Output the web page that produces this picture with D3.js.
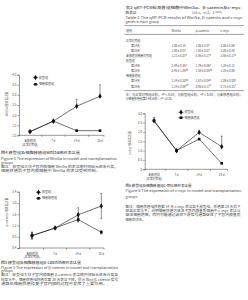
<!DOCTYPE html>
<html lang="zh">
<head>
<meta charset="UTF-8">
<title>Wnt5a / β-catenin / c-myc</title>
<style>
  body { margin: 0; background: #fff; }
  svg { display: block; }
  text { font-family: "Noto Sans CJK SC", "Liberation Sans", sans-serif; fill: #4a4a4a; }
</style>
</head>
<body>
<script src="https://cdn.jsdelivr.net/npm/d3@7"></script>
<script>
// categories & series
var categories = ["未移植前|(正常对照组)", "7 d", "14 d", "28 d"];
var seriesNames = ["模型组", "细胞移植组"];

var wnt5aTicks = [1.0, 1.5, 2.0, 2.5, 3.0, 3.5, 4.0];
var wnt5aModel = [1.18, 1.70, 2.44, 2.93];
var wnt5aModelErr = [0, 0, 0.34, 0.57];
var wnt5aTrans = [1.18, 1.70, 1.23, 1.23];
var wnt5aTransErr = [0, 0, 0, 0];

var cateninTicks = [0.4, 0.8, 1.2, 1.6, 2.0, 2.4];
var cateninModel = [0.84, 1.11, 1.58, 1.89];
var cateninModelErr = [0.12, 0, 0.25, 0.45];
var cateninTrans = [0.84, 1.11, 1.41, 0.96];
var cateninTransErr = [0.12, 0, 0.08, 0.06];

var mycTicks = [0, 0.5, 1.0, 1.5, 2.0, 2.5, 3.0];
var mycModel = [2.60, 1.00, 1.98, 1.21];
var mycModelErr = [0.18, 0, 0, 0.57];
var mycTrans = [2.60, 1.00, 1.62, 0.32];
var mycTransErr = [0, 0, 0, 0];

// table 2
var tableColumns = ["组别", "Wnt5a", "β-catenin", "c-myc"];
var rowLabels = ["正常对照组", "第14天", "第28天", "未移植前细胞对照组", "模型组", "第14天", "第28天", "细胞移植组", "第14天", "第28天"];
var wnt5aCells = ["", "1.00±0.15", "1.00±0.07", "2.21±0.37", "", "2.44±0.35", "3.45±1.08", "", "2.14±0.33", "2.14±0.09"];
var wnt5aMarks = ["", "", "", "a", "", "a", "ab", "", "ab", "ab"];
var cateninCells = ["", "1.00±0.07", "1.00±0.07", "0.86±0.17", "", "1.79±0.06", "1.59±0.08", "", "1.57±0.04", "0.93±0.17"];
var cateninMarks = ["", "", "", "a", "", "a", "ab", "", "a", "a"];
var mycCells = ["", "1.00±0.06", "1.00±0.08", "2.66±0.17", "", "1.24±0.12", "1.20±0.06", "", "2.09±0.08", "0.71±0.15"];
var mycMarks = ["", "", "", "a", "", "", "", "", "a", "a"];

var svg = d3.select("body").append("svg")
  .attr("width", 248)
  .attr("height", 300);

svg.append("rect").attr("width", 248).attr("height", 300).attr("fill", "#fff");

// one line of text, stretched to the width seen in the picture
function txt(x, y, str, size, len, weight) {
  var t = svg.append("text")
    .attr("x", x).attr("y", y)
    .attr("font-size", size)
    .text(str);
  if (len) t.attr("textLength", len).attr("lengthAdjust", "spacingAndGlyphs");
  if (weight) t.attr("font-weight", weight);
  return t;
}

function drawChart(c) {
  var g = svg.append("g");
  var x = d3.scalePoint().domain(categories).range(c.xRange);
  var y = d3.scaleLinear()
    .domain([c.ticks[0], c.ticks[c.ticks.length - 1]])
    .range([c.yBottom, c.yTop]);

  var yAxis = d3.axisLeft(y)
    .tickValues(c.ticks)
    .tickSize(1.5)
    .tickPadding(1)
    .tickFormat(function(d) { return d === 0 ? "0" : d.toFixed(1); });

  var ya = g.append("g")
    .attr("transform", "translate(" + c.axisX + ",0)")
    .call(yAxis);
  ya.selectAll("path, line").attr("stroke", "#333").attr("stroke-width", 0.5);
  ya.selectAll("text").attr("font-size", 3).attr("fill", "#555")
    .attr("font-family", "Liberation Sans, sans-serif");

  // x axis
  g.append("line")
    .attr("x1", c.axisX).attr("x2", c.axisRight)
    .attr("y1", c.yBottom).attr("y2", c.yBottom)
    .attr("stroke", "#333").attr("stroke-width", 0.5);
  var tickXs = [];
  for (var i = 0; i < categories.length - 1; i++) {
    tickXs.push((x(categories[i]) + x(categories[i + 1])) / 2);
  }
  tickXs.push(c.axisRight);
  g.selectAll(".xt").data(tickXs).enter().append("line")
    .attr("x1", function(d) { return d; }).attr("x2", function(d) { return d; })
    .attr("y1", c.yBottom).attr("y2", c.yBottom + 1.5)
    .attr("stroke", "#333").attr("stroke-width", 0.5);

  categories.forEach(function(cat) {
    cat.split("|").forEach(function(part, k) {
      g.append("text")
        .attr("x", x(cat)).attr("y", c.yBottom + 7 + k * 3.3)
        .attr("text-anchor", "middle")
        .attr("font-size", 2.9)
        .attr("fill", "#555")
        .text(part);
    });
  });

  // y title
  g.append("text")
    .attr("transform", "translate(" + c.titleX + "," + c.titleY + ") rotate(-90)")
    .attr("text-anchor", "middle")
    .attr("font-size", 3)
    .attr("fill", "#555")
    .text(c.yTitle);

  var line = d3.line()
    .x(function(d, i) { return x(categories[i]); })
    .y(function(d) { return y(d); });

  c.series.forEach(function(s, si) {
    var sym = d3.symbol().type(si === 0 ? d3.symbolDiamond : d3.symbolSquare).size(si === 0 ? 9 : 7);

    g.append("path")
      .attr("d", line(s.values))
      .attr("fill", "none")
      .attr("stroke", "#111")
      .attr("stroke-width", 0.6);

    s.values.forEach(function(v, i) {
      var e = s.err[i];
      if (!e) return;
      var cx = x(categories[i]);
      var lo = c.errBoth ? v - e : v;
      g.append("line")
        .attr("x1", cx).attr("x2", cx)
        .attr("y1", y(lo)).attr("y2", y(v + e))
        .attr("stroke", "#222").attr("stroke-width", 0.5);
      g.append("line")
        .attr("x1", cx - 0.9).attr("x2", cx + 0.9)
        .attr("y1", y(v + e)).attr("y2", y(v + e))
        .attr("stroke", "#222").attr("stroke-width", 0.5);
      if (c.errBoth) {
        g.append("line")
          .attr("x1", cx - 0.9).attr("x2", cx + 0.9)
          .attr("y1", y(lo)).attr("y2", y(lo))
          .attr("stroke", "#222").attr("stroke-width", 0.5);
      }
    });

    g.selectAll(".m" + si).data(s.values).enter().append("path")
      .attr("d", sym)
      .attr("transform", function(d, i) { return "translate(" + x(categories[i]) + "," + y(d) + ")"; })
      .attr("fill", "#111");

    // legend
    var ly = c.legendY[si];
    g.append("line")
      .attr("x1", c.legendX).attr("x2", c.legendX + 5)
      .attr("y1", ly).attr("y2", ly)
      .attr("stroke", "#111").attr("stroke-width", 0.6);
    g.append("path")
      .attr("d", sym)
      .attr("transform", "translate(" + (c.legendX + 2.5) + "," + ly + ")")
      .attr("fill", "#111");
    g.append("text")
      .attr("x", c.legendX + 6).attr("y", ly + 1.1)
      .attr("font-size", 3)
      .attr("fill", "#555")
      .text(seriesNames[si]);
  });
}

// Figure 4 - Wnt5a
drawChart({
  xRange: [30, 100], axisX: 19, axisRight: 104,
  yTop: 74.7, yBottom: 135.3, ticks: wnt5aTicks,
  yTitle: "Wnt5a 相对表达量", titleX: 7.5, titleY: 104,
  legendX: 33, legendY: [77.5, 84.3],
  errBoth: false,
  series: [
    { values: wnt5aModel, err: wnt5aModelErr },
    { values: wnt5aTrans, err: wnt5aTransErr }
  ]
});

// Figure 5 - β-catenin
drawChart({
  xRange: [32, 101.3], axisX: 19, axisRight: 104,
  yTop: 191.7, yBottom: 248, ticks: cateninTicks,
  yTitle: "β-catenin 相对表达量", titleX: 7.5, titleY: 212,
  legendX: 36, legendY: [192.3, 198.3],
  errBoth: true,
  series: [
    { values: cateninModel, err: cateninModelErr },
    { values: cateninTrans, err: cateninTransErr }
  ]
});

// Figure 6 - c-myc
drawChart({
  xRange: [154, 221.7], axisX: 144.7, axisRight: 227.5,
  yTop: 113.3, yBottom: 169.3, ticks: mycTicks,
  yTitle: "c-myc 相对表达量", titleX: 131, titleY: 143,
  legendX: 178.5, legendY: [112.3, 117.7],
  errBoth: false,
  series: [
    { values: mycModel, err: mycModelErr },
    { values: mycTrans, err: mycTransErr }
  ]
});

// captions, left column
txt(1, 154.2, "图4  模型组及细胞移植组Wnt5a相对表达量", 3.7, 79, 500);
txt(1, 159.5, "Figure 4  The expression of Wnt5a in model and transplantation", 3.6, 116);
txt(1, 163.8, "groups", 3.6);
txt(1, 168, "图注：模型组大鼠子宫内膜细胞 Wnt5a 的表达随时间延长逐渐升高，", 3.4, 117);
txt(1, 172.3, "细胞移植后子宫内膜细胞中 Wnt5a 的表达受到抑制。", 3.4, 99);

txt(1, 264.2, "图5  模型组及细胞移植组β-catenin相对表达量", 3.7, 80, 500);
txt(1, 268.5, "Figure 5  The expression of β-catenin in model and transplantation", 3.6, 117);
txt(1, 272, "groups", 3.6);
txt(1, 276.3, "图注：模型组大鼠子宫内膜细胞 β-catenin 表达随时间延长逐渐升高至", 3.4, 117);
txt(1, 280.6, "较高水平，细胞移植组移植后第 28 天表达下降，提示 Wnt/β-catenin 信号", 3.4, 117);
txt(1, 284.9, "通路在细胞移植修复子宫内膜的过程中发挥了重要作用。", 3.4, 106);

// table 2, right column
txt(125.5, 8.8, "表2  qRT-PCR检测各组细胞中Wnt5a、β-catenin及c-myc", 3.6, 115, 500);
txt(125.5, 13.8, "的表达", 3.6, 11, 500);
var unit = txt(192, 13.8, "(x̄±s，n=3，2", 3.4, null);
unit.append("tspan").attr("dy", -1.2).attr("font-size", 2.3).text("−ΔΔCt");
unit.append("tspan").attr("dy", 1.2).text(")");
txt(125.5, 18.7, "Table 2  The qRT-PCR results of Wnt5a, β-catenin and c-myc", 3.6, 117);
txt(125.5, 23.1, "genes in each group", 3.6);

var rule = function(y) {
  svg.append("line").attr("x1", 124.5).attr("x2", 244)
    .attr("y1", y).attr("y2", y)
    .attr("stroke", "#444").attr("stroke-width", 0.5);
};
rule(25.6);
rule(34.4);

var colX = [126, 171.5, 195.5, 220.5];
tableColumns.forEach(function(col, i) {
  txt(colX[i], 31.5, col, 3.1);
});

var rowY = d3.scaleLinear().domain([0, rowLabels.length - 1]).range([41.6, 87.5]);
var cellCols = [[wnt5aCells, wnt5aMarks], [cateninCells, cateninMarks], [mycCells, mycMarks]];
rowLabels.forEach(function(lab, r) {
  var yy = rowY(r);
  txt(lab.indexOf("第") === 0 ? 131 : 126, yy, lab, 2.9);
  cellCols.forEach(function(cc, ci) {
    if (!cc[0][r]) return;
    var t = txt(colX[ci + 1], yy, cc[0][r], 2.9);
    if (cc[1][r]) t.append("tspan").attr("dy", -1.1).attr("font-size", 2.1).text(cc[1][r]);
  });
});
rule(90.6);

txt(125.5, 95.8, "注：与正常对照组比较，ᵃP＜0.05；与模型组比较，ᵇP＜0.05；与未移植组比较，", 3.2, 117);
txt(125.5, 100.2, "与细胞移植组第14天比较，ᶜP＜0.05。", 3.2, 49);

// caption, right column
txt(125.5, 187, "图6  模型组及细胞移植组c-myc相对表达量", 3.7, 66, 500);
txt(125.5, 192, "Figure 6  The expression of c-myc in model and transplantation", 3.6, 116);
txt(125.5, 197.6, "groups", 3.6);
txt(125.5, 207.6, "图注：细胞移植组移植第 14 天 c-myc 表达高于模型组，移植第 28 天后下", 3.4, 115);
txt(125.5, 212, "降至正常水平，说明细胞移植可促进子宫内膜基质细胞中 c-myc 表达以", 3.4, 115);
txt(125.5, 216.4, "促进细胞增殖，同时可能通过调控下游信号通路促进了子宫内膜基质", 3.4, 115);
txt(125.5, 220.8, "细胞的活化。", 3.4, 20);
</script>
</body>
</html>
